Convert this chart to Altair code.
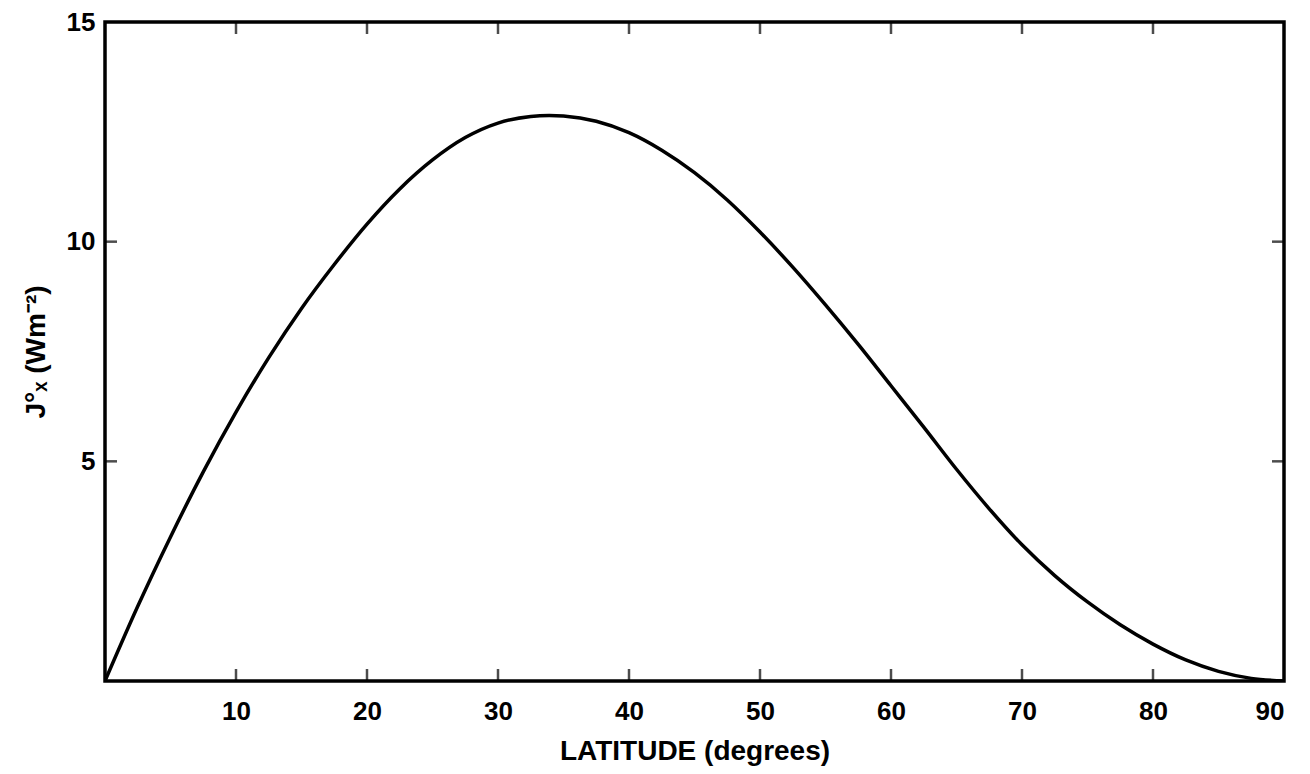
import altair as alt
import pandas as pd

# Curve (latitude in degrees, J value in W m^-2)
latitude = [0, 2.5, 5, 7.5, 10, 12.5, 15, 17.5, 20, 22.5, 25, 27.5, 30, 32.5,
            35, 37.5, 40, 42.5, 45, 47.5, 50, 52.5, 55, 57.5, 60, 62.5, 65,
            67.5, 70, 72.5, 75, 77.5, 80, 82.5, 85, 87.5, 90]
flux = [0, 1.7, 3.28, 4.76, 6.12, 7.36, 8.48, 9.48, 10.4, 11.2, 11.86, 12.37,
        12.7, 12.85, 12.86, 12.74, 12.48, 12.08, 11.57, 10.95, 10.22, 9.42,
        8.56, 7.66, 6.72, 5.78, 4.82, 3.92, 3.1, 2.4, 1.8, 1.28, 0.84, 0.48,
        0.22, 0.06, 0]

x_tick_values = [10, 20, 30, 40, 50, 60, 70, 80]
x_label_values = [10, 20, 30, 40, 50, 60, 70, 80, 90]
y_tick_values = [5, 10]
y_label_values = [5, 10, 15]
x_min, x_max = 0, 90
y_min, y_max = 0, 15

FONT = "Liberation Sans"

curve_df = pd.DataFrame({"lat": latitude, "J": flux})
xt_bottom = pd.DataFrame({"lat": x_tick_values, "J": [y_min] * len(x_tick_values)})
xt_top = pd.DataFrame({"lat": x_tick_values, "J": [y_max] * len(x_tick_values)})
yt_left = pd.DataFrame({"lat": [x_min] * len(y_tick_values), "J": y_tick_values})
yt_right = pd.DataFrame({"lat": [x_max] * len(y_tick_values), "J": y_tick_values})

x_scale = alt.Scale(domain=[x_min, x_max], nice=False, zero=False)
y_scale = alt.Scale(domain=[y_min, y_max], nice=False, zero=False)

x_enc = alt.X(
    "lat:Q",
    scale=x_scale,
    axis=alt.Axis(
        values=x_label_values,
        title="LATITUDE (degrees)",
        labelPadding=17,
        titlePadding=13,
    ),
)
y_enc = alt.Y(
    "J:Q",
    scale=y_scale,
    axis=alt.Axis(
        values=y_label_values,
        title="J°ₓ (Wm⁻²)",
        labelPadding=10,
        titlePadding=16,
    ),
)

curve = alt.Chart(curve_df).mark_line(
    color="black", strokeWidth=3.5, interpolate="cardinal", clip=True
).encode(x=x_enc, y=y_enc)

tick_x = dict(scale=x_scale)
tick_y = dict(scale=y_scale)

bottom_ticks = alt.Chart(xt_bottom).mark_tick(
    orient="vertical", size=12, thickness=2.5, yOffset=-6, color="black"
).encode(x=alt.X("lat:Q", **tick_x), y=alt.Y("J:Q", **tick_y))
top_ticks = alt.Chart(xt_top).mark_tick(
    orient="vertical", size=12, thickness=2.5, yOffset=6, color="black"
).encode(x=alt.X("lat:Q", **tick_x), y=alt.Y("J:Q", **tick_y))
left_ticks = alt.Chart(yt_left).mark_tick(
    orient="horizontal", size=12, thickness=2.5, xOffset=6, color="black"
).encode(x=alt.X("lat:Q", **tick_x), y=alt.Y("J:Q", **tick_y))
right_ticks = alt.Chart(yt_right).mark_tick(
    orient="horizontal", size=12, thickness=2.5, xOffset=-6, color="black"
).encode(x=alt.X("lat:Q", **tick_x), y=alt.Y("J:Q", **tick_y))

chart = (
    alt.layer(curve, bottom_ticks, top_ticks, left_ticks, right_ticks)
    .properties(
        width=1179,
        height=659,
        autosize=alt.AutoSizeParams(type="none"),
        padding={"left": 97, "top": 14, "right": 18, "bottom": 90},
        background="white",
    )
    .configure_view(stroke="black", strokeWidth=3.5)
    .configure_axis(
        ticks=False,
        domain=False,
        grid=False,
        labelFont=FONT,
        labelFontSize=26,
        labelColor="black",
        labelFontWeight="bold",
        titleFont=FONT,
        titleFontSize=28,
        titleColor="black",
        titleFontWeight="bold",
    )
)

chart.save("out.html", embed_options={"renderer": "svg", "actions": False})
